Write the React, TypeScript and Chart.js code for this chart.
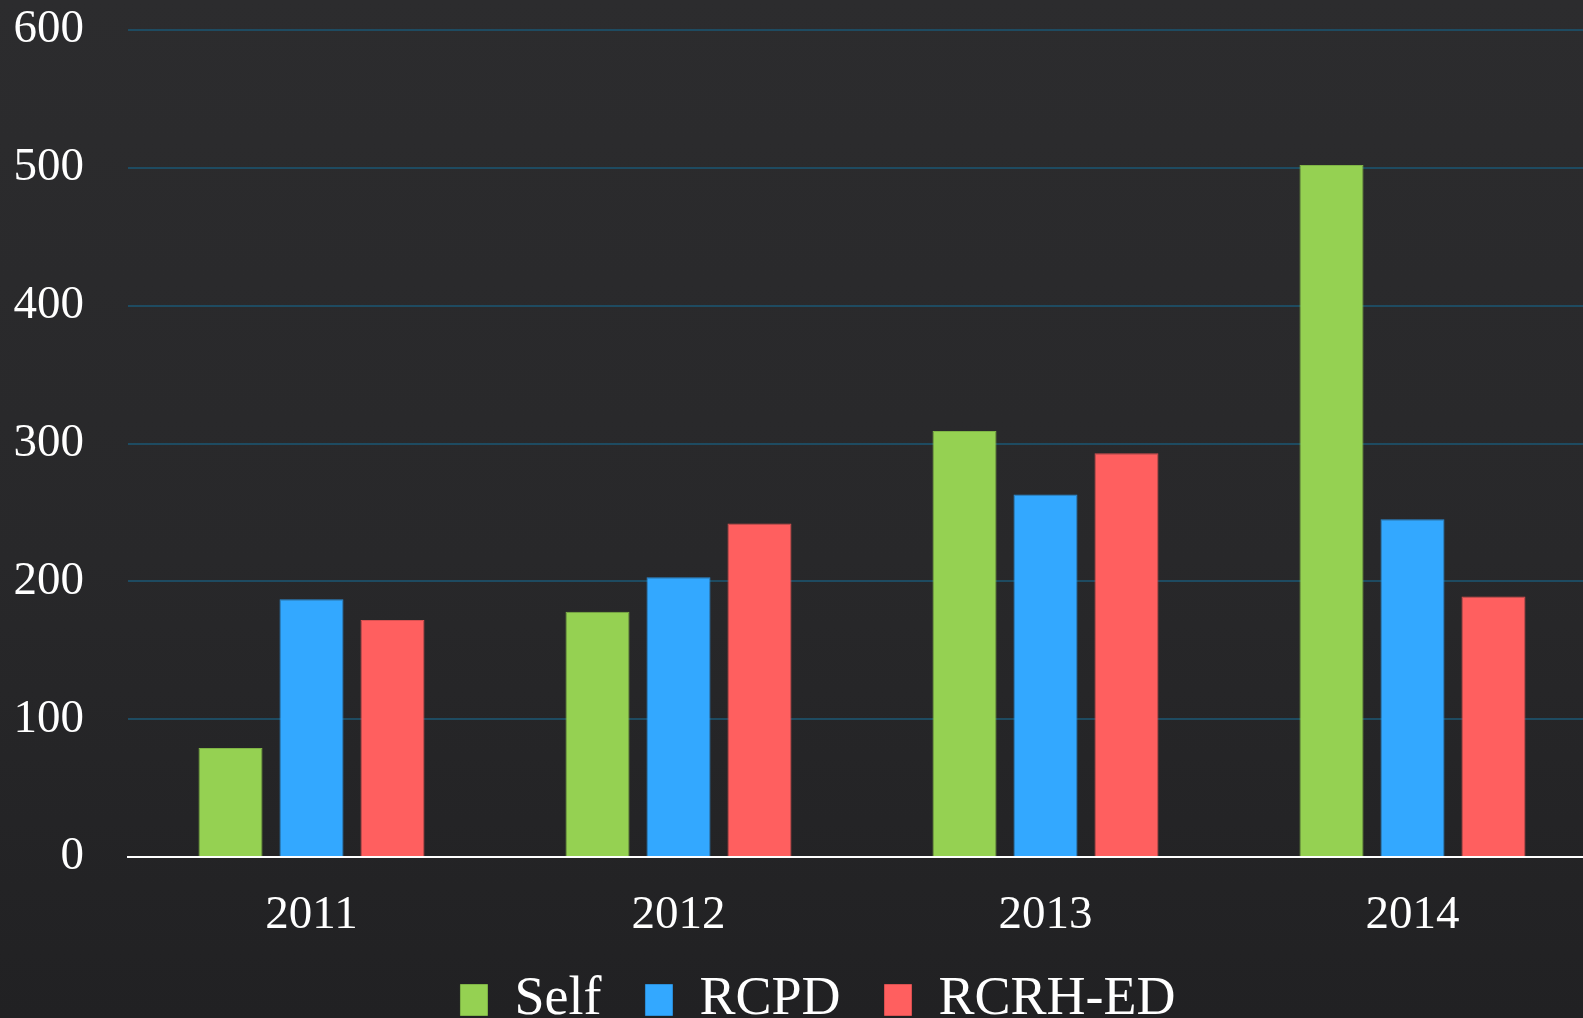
import React, { useEffect, useRef } from "react";
import { Chart, registerables } from "chart.js";

Chart.register(...registerables);

const categories = ["2011", "2012", "2013", "2014"];
const selfValues = [79, 178, 309, 502];
const rcpdValues = [187, 203, 263, 245];
const rcrhValues = [172, 242, 293, 189];
const seriesNames = ["Self", "RCPD", "RCRH-ED"];
const seriesColors = ["#95d152", "#33a8ff", "#ff5f5f"];
const seriesBorders = ["#7fb446", "#2b8fd9", "#d95151"];

const FONT = "'Liberation Serif', 'Times New Roman', serif";

const legendShift = {
  id: "legendShift",
  afterLayout(chart: any) {
    if (chart.legend) {
      chart.legend.left += 20;
      chart.legend.right += 20;
    }
  },
};

export default function App() {
  const ref = useRef<HTMLCanvasElement | null>(null);

  useEffect(() => {
    if (!ref.current) return;
    const values = [selfValues, rcpdValues, rcrhValues];
    const chart = new Chart(ref.current, {
      type: "bar",
      data: {
        labels: categories,
        datasets: seriesNames.map((name, i) => ({
          label: name,
          data: values[i],
          backgroundColor: seriesColors[i],
          borderColor: seriesBorders[i],
          borderWidth: 1,
          categoryPercentage: 0.662,
          barPercentage: 0.79,
        })),
      },
      plugins: [legendShift],
      options: {
        responsive: false,
        animation: false,
        layout: { padding: 0 },
        plugins: {
          tooltip: { enabled: false },
          legend: {
            position: "bottom",
            labels: {
              color: "#ffffff",
              font: { family: FONT, size: 54 },
              boxWidth: 27,
              boxHeight: 31,
              padding: 44,
            },
          },
        },
        scales: {
          x: {
            grid: { display: false, drawTicks: false },
            border: { display: true, color: "#ffffff", width: 2 },
            ticks: {
              color: "#ffffff",
              font: { family: FONT, size: 47 },
              padding: 30,
            },
            afterFit: (s: any) => {
              s.height = 72;
            },
          },
          y: {
            min: 0,
            max: 600,
            ticks: {
              stepSize: 100,
              color: "#ffffff",
              font: { family: FONT, size: 47 },
              padding: 44,
            },
            grid: { color: "#1e4b61", lineWidth: 2, drawTicks: false },
            border: { display: false },
            afterFit: (s: any) => {
              s.width = 128;
              s.paddingTop = 30;
              s.paddingBottom = 0;
            },
          },
        },
      },
    });
    return () => chart.destroy();
  }, []);

  return (
    <div
      style={{
        position: "fixed",
        left: 0,
        top: 0,
        width: 1583,
        height: 1018,
        overflow: "hidden",
        background: "linear-gradient(180deg, #2c2c2e 0%, #28282a 55%, #212123 100%)",
      }}
    >
      <canvas ref={ref} width={1596} height={1037} style={{ width: 1596, height: 1037, display: "block" }} />
    </div>
  );
}
